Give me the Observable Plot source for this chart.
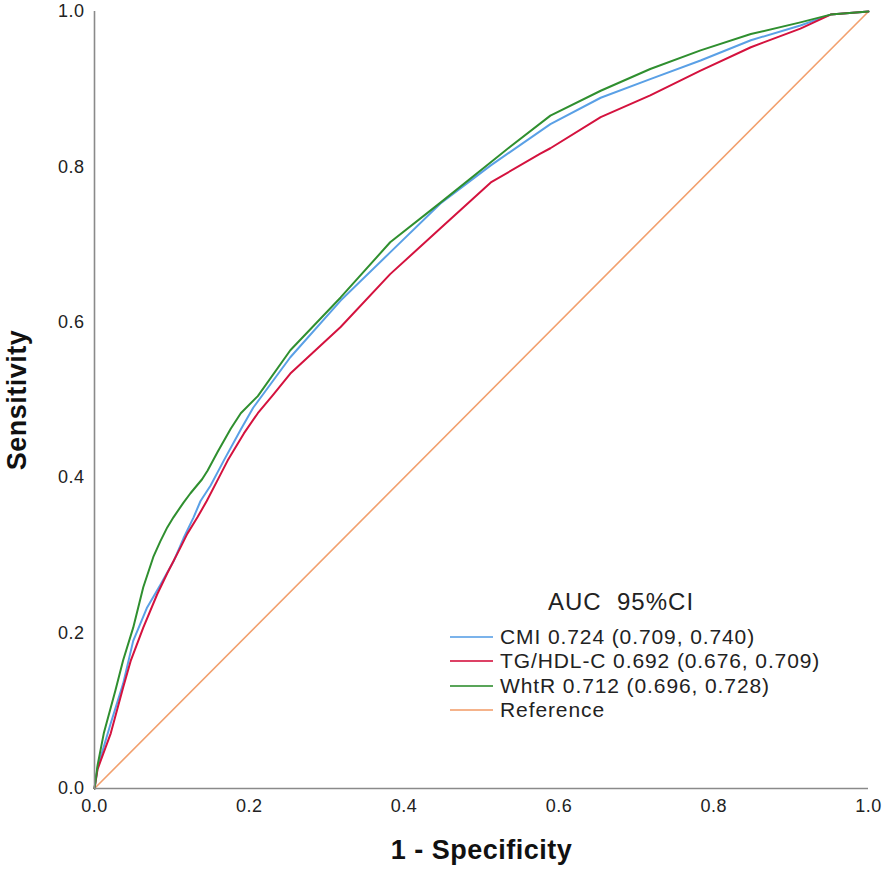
<!DOCTYPE html>
<html>
<head>
<meta charset="utf-8">
<script src="https://cdn.jsdelivr.net/npm/d3@7"></script>
<script src="https://cdn.jsdelivr.net/npm/@observablehq/plot@0.6"></script>
<style>
  html, body { margin: 0; padding: 0; background: #fff; }
  #wrap { position: relative; width: 886px; height: 882px; font-family: "Liberation Sans", Arial, sans-serif; }
  .lg { position: absolute; color: #222; white-space: pre; font-size: 21px; letter-spacing: 0.9px; line-height: 1; }
  .sw { position: absolute; height: 2px; width: 43px; }
</style>
</head>
<body>
<div id="wrap"></div>
<script>
// ROC curve points: [1 - Specificity, Sensitivity]
const cmiX = [0, 0.004, 0.021, 0.037, 0.05, 0.068, 0.085, 0.102, 0.115, 0.128, 0.137, 0.15, 0.167, 0.189, 0.205, 0.253, 0.318, 0.382, 0.447, 0.512, 0.589, 0.654, 0.718, 0.783, 0.848, 0.912, 0.951, 1];
const cmiY = [0, 0.027, 0.084, 0.135, 0.19, 0.233, 0.262, 0.292, 0.322, 0.349, 0.37, 0.39, 0.422, 0.462, 0.49, 0.555, 0.628, 0.690, 0.753, 0.802, 0.855, 0.889, 0.913, 0.937, 0.963, 0.982, 0.996, 1];

const tgX = [0, 0.004, 0.021, 0.037, 0.047, 0.063, 0.081, 0.094, 0.111, 0.12, 0.133, 0.145, 0.158, 0.172, 0.193, 0.211, 0.231, 0.253, 0.318, 0.382, 0.447, 0.512, 0.576, 0.589, 0.654, 0.718, 0.783, 0.848, 0.912, 0.951, 1];
const tgY = [0, 0.025, 0.071, 0.13, 0.165, 0.207, 0.25, 0.277, 0.31, 0.328, 0.349, 0.37, 0.395, 0.422, 0.457, 0.483, 0.507, 0.534, 0.594, 0.662, 0.721, 0.780, 0.817, 0.824, 0.864, 0.892, 0.924, 0.954, 0.978, 0.996, 1];

const whtrX = [0, 0.004, 0.012, 0.027, 0.037, 0.05, 0.063, 0.076, 0.085, 0.094, 0.102, 0.115, 0.124, 0.139, 0.146, 0.159, 0.176, 0.189, 0.211, 0.253, 0.318, 0.382, 0.447, 0.512, 0.537, 0.589, 0.654, 0.718, 0.783, 0.848, 0.912, 0.951, 1];
const whtrY = [0, 0.03, 0.071, 0.126, 0.165, 0.207, 0.259, 0.298, 0.318, 0.336, 0.349, 0.368, 0.38, 0.398, 0.409, 0.433, 0.463, 0.483, 0.505, 0.564, 0.632, 0.703, 0.754, 0.806, 0.826, 0.866, 0.898, 0.926, 0.950, 0.971, 0.986, 0.996, 1];

const refX = [0, 1];
const refY = [0, 1];

const seriesNames = ["CMI", "TG/HDL-C", "WhtR", "Reference"];
const seriesLabels = ["CMI 0.724 (0.709, 0.740)", "TG/HDL-C 0.692 (0.676, 0.709)", "WhtR 0.712 (0.696, 0.728)", "Reference"];
const seriesColors = ["#5aa0e6", "#d4123e", "#2f8f2f", "#f2a06e"];
const legendTitle = "AUC  95%CI";

const xTicks = [0, 0.2, 0.4, 0.6, 0.8, 1.0];
const yTicks = [0, 0.2, 0.4, 0.6, 0.8, 1.0];
const xLabel = "1 - Specificity";
const yLabel = "Sensitivity";

const toRows = (xs, ys, name) => xs.map((x, i) => ({x, y: ys[i], name}));
const refRows = toRows(refX, refY, "Reference");
const curveRows = [
  ...toRows(cmiX, cmiY, "CMI"),
  ...toRows(tgX, tgY, "TG/HDL-C"),
  ...toRows(whtrX, whtrY, "WhtR")
];
const colorOf = Object.fromEntries(seriesNames.map((n, i) => [n, seriesColors[i]]));

const plot = Plot.plot({
  width: 886,
  height: 882,
  marginLeft: 94,
  marginRight: 18,
  marginTop: 11,
  marginBottom: 94,
  style: {fontFamily: "'Liberation Sans', Arial, sans-serif", fontSize: "18px", color: "#222", background: "#fff", letterSpacing: "0.5px"},
  x: {domain: [0, 1]},
  y: {domain: [0, 1]},
  marks: [
    Plot.axisX({ticks: xTicks, tickSize: 0, tickPadding: 11, tickFormat: d3.format(".1f"), label: null}),
    Plot.axisY({ticks: yTicks, tickSize: 0, tickPadding: 10, tickFormat: d3.format(".1f"), label: null}),
    Plot.line(refRows, {x: "x", y: "y", stroke: colorOf["Reference"], strokeWidth: 1.6}),
    Plot.line(curveRows, {x: "x", y: "y", z: "name", stroke: d => colorOf[d.name], strokeWidth: 2}),
    Plot.ruleX([0], {stroke: "#8a8a8a", strokeWidth: 1.6}),
    Plot.ruleY([0], {stroke: "#8a8a8a", strokeWidth: 1.6}),
    Plot.text([xLabel], {frameAnchor: "bottom", dy: 70, text: d => d, fontWeight: "bold", fontSize: 27, fill: "#111"}),
    Plot.text([yLabel], {frameAnchor: "left", textAnchor: "middle", dx: -77, rotate: -90, text: d => d, fontWeight: "bold", fontSize: 27, fill: "#111"})
  ]
});

const wrap = document.getElementById("wrap");
wrap.appendChild(plot);

// legend overlay
const title = document.createElement("div");
title.className = "lg";
title.textContent = legendTitle;
title.style.left = "548px";
title.style.top = "590px";
title.style.fontSize = "24px";
title.style.letterSpacing = "1px";
wrap.appendChild(title);

const rowTop = [626, 650, 675, 699];
seriesLabels.forEach((lab, i) => {
  const sw = document.createElement("div");
  sw.className = "sw";
  sw.style.left = "450px";
  sw.style.top = (rowTop[i] + 10) + "px";
  sw.style.background = seriesColors[i];
  sw.style.opacity = "0.8";
  wrap.appendChild(sw);
  const t = document.createElement("div");
  t.className = "lg";
  t.textContent = lab;
  t.style.left = "500px";
  t.style.top = rowTop[i] + "px";
  wrap.appendChild(t);
});
</script>
</body>
</html>
